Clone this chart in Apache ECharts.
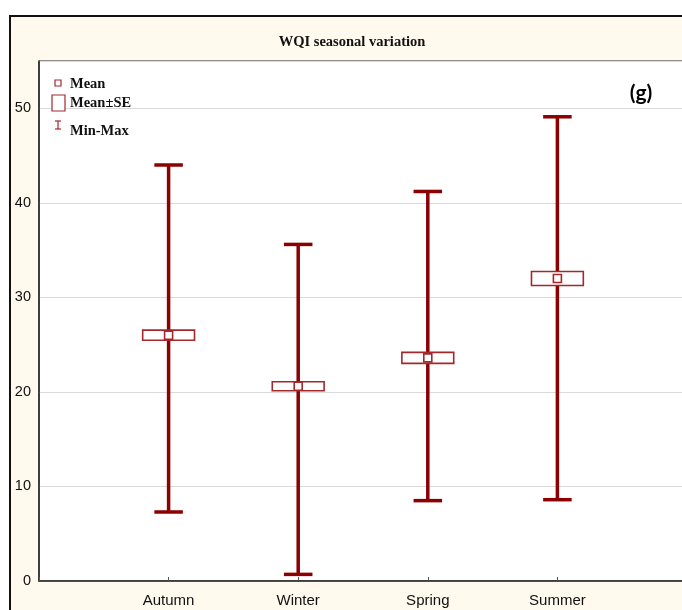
<!DOCTYPE html>
<html><head><meta charset="utf-8">
<script src="https://cdn.jsdelivr.net/npm/echarts@6/dist/echarts.min.js"></script>
<style>html,body{margin:0;padding:0;background:#fff}#c{width:682px;height:610px}</style>
</head><body><div id="c"></div>
<script>
const categories = ['Autumn', 'Winter', 'Spring', 'Summer'];
const minVals = [7.3, 0.7, 8.5, 8.6];
const maxVals = [44.0, 35.6, 41.2, 49.1];
const meanVals = [26.0, 20.6, 23.6, 32.0];
const seVals = [0.53, 0.48, 0.58, 0.74];
const yTicks = [0, 10, 20, 30, 40, 50];

const dark = '#8B0000';
const boxCol = '#A3282C';

const data = categories.map((c, i) => [i + 1, minVals[i], maxVals[i], meanVals[i], meanVals[i] - seVals[i], meanVals[i] + seVals[i]]);

const chart = echarts.init(document.getElementById('c'), null, {renderer: 'canvas'});
chart.setOption({
  animation: false,
  backgroundColor: '#ffffff',
  title: {
    text: 'WQI seasonal variation',
    left: 347, top: 30, textAlign: 'center',
    textStyle: {fontFamily: 'Liberation Serif', fontWeight: 'bold', fontSize: 14.5, color: '#111'}
  },
  graphic: [
    {type: 'rect', z: -100, silent: true, shape: {x: 10, y: 16, width: 720, height: 640},
     style: {fill: '#FFF9EE', stroke: '#111', lineWidth: 2}},
    // legend
    {type: 'rect', z: 100, shape: {x: 55, y: 80, width: 6, height: 6}, style: {fill: '#fff', stroke: boxCol, lineWidth: 1.2}},
    {type: 'rect', z: 100, shape: {x: 52, y: 95, width: 13, height: 16}, style: {fill: '#fff', stroke: boxCol, lineWidth: 1.2}},
    {type: 'line', z: 100, shape: {x1: 58, y1: 121, x2: 58, y2: 129}, style: {stroke: boxCol, lineWidth: 1.2}},
    {type: 'line', z: 100, shape: {x1: 55, y1: 121, x2: 61, y2: 121}, style: {stroke: boxCol, lineWidth: 1.2}},
    {type: 'line', z: 100, shape: {x1: 55, y1: 129, x2: 61, y2: 129}, style: {stroke: boxCol, lineWidth: 1.2}},
    {type: 'text', z: 100, style: {text: 'Mean', x: 70, y: 84, verticalAlign: 'middle', fill: '#111', font: 'bold 14.5px "Liberation Serif"'}},
    {type: 'text', z: 100, style: {text: 'Mean±SE', x: 70, y: 103, verticalAlign: 'middle', fill: '#111', font: 'bold 14.5px "Liberation Serif"'}},
    {type: 'text', z: 100, style: {text: 'Min-Max', x: 70, y: 131, verticalAlign: 'middle', fill: '#111', font: 'bold 14.5px "Liberation Serif"'}},
    {type: 'text', z: 100, style: {text: '(g)', x: 641, y: 93, align: 'center', verticalAlign: 'middle', fill: '#000', font: 'bold 21px Lato'}}
  ],
  grid: {left: 39, top: 61, right: -5, bottom: 29, outerBoundsMode: 'none', containLabel: false,
         show: true, backgroundColor: '#ffffff', borderColor: '#222', borderWidth: 1},
  xAxis: {
    type: 'value', min: 0, max: 5, interval: 1,
    axisLine: {show: true, lineStyle: {color: '#222', width: 1.5}},
    axisTick: {show: true, inside: true, length: 4, lineStyle: {color: '#555'}},
    splitLine: {show: false},
    axisLabel: {
      margin: 12, color: '#111', fontSize: 15, fontFamily: 'Liberation Sans Narrow, Arial Narrow, sans-serif',
      formatter: v => categories[v - 1] || ''
    }
  },
  yAxis: {
    type: 'value', min: 0, max: 55, interval: 10,
    axisLine: {show: true, lineStyle: {color: '#222', width: 1.5}},
    axisTick: {show: false},
    splitLine: {show: true, lineStyle: {color: '#d9d9d9', width: 1}},
    axisLabel: {
      margin: 8, color: '#111', fontSize: 14.5, fontFamily: 'Liberation Sans Narrow, Arial Narrow, sans-serif',
      formatter: v => yTicks.indexOf(v) >= 0 ? String(v) : ''
    }
  },
  series: [{
    type: 'custom',
    data: data,
    encode: {x: 0, y: [1, 2, 3]},
    renderItem: function (params, api) {
      const x = api.value(0);
      const pMin = api.coord([x, api.value(1)]);
      const pMax = api.coord([x, api.value(2)]);
      const pMean = api.coord([x, api.value(3)]);
      const pLo = api.coord([x, api.value(4)]);
      const pHi = api.coord([x, api.value(5)]);
      const unit = api.size([1, 0])[0];
      const capHalf = unit * 0.11;
      const boxHalf = unit * 0.2;
      const cx = pMean[0];
      return {
        type: 'group',
        children: [
          {type: 'line', shape: {x1: cx, y1: pMin[1], x2: cx, y2: pMax[1]}, style: {stroke: dark, lineWidth: 3.5}},
          {type: 'line', shape: {x1: cx - capHalf, y1: pMin[1], x2: cx + capHalf, y2: pMin[1]}, style: {stroke: dark, lineWidth: 3.5}},
          {type: 'line', shape: {x1: cx - capHalf, y1: pMax[1], x2: cx + capHalf, y2: pMax[1]}, style: {stroke: dark, lineWidth: 3.5}},
          {type: 'rect', shape: {x: cx - boxHalf, y: pHi[1], width: boxHalf * 2, height: pLo[1] - pHi[1]}, style: {fill: '#fff', stroke: boxCol, lineWidth: 1.6}},
          {type: 'rect', shape: {x: cx - 4, y: pMean[1] - 4, width: 8, height: 8}, style: {fill: '#fff', stroke: boxCol, lineWidth: 1.6}}
        ]
      };
    }
  }]
});
</script></body></html>
